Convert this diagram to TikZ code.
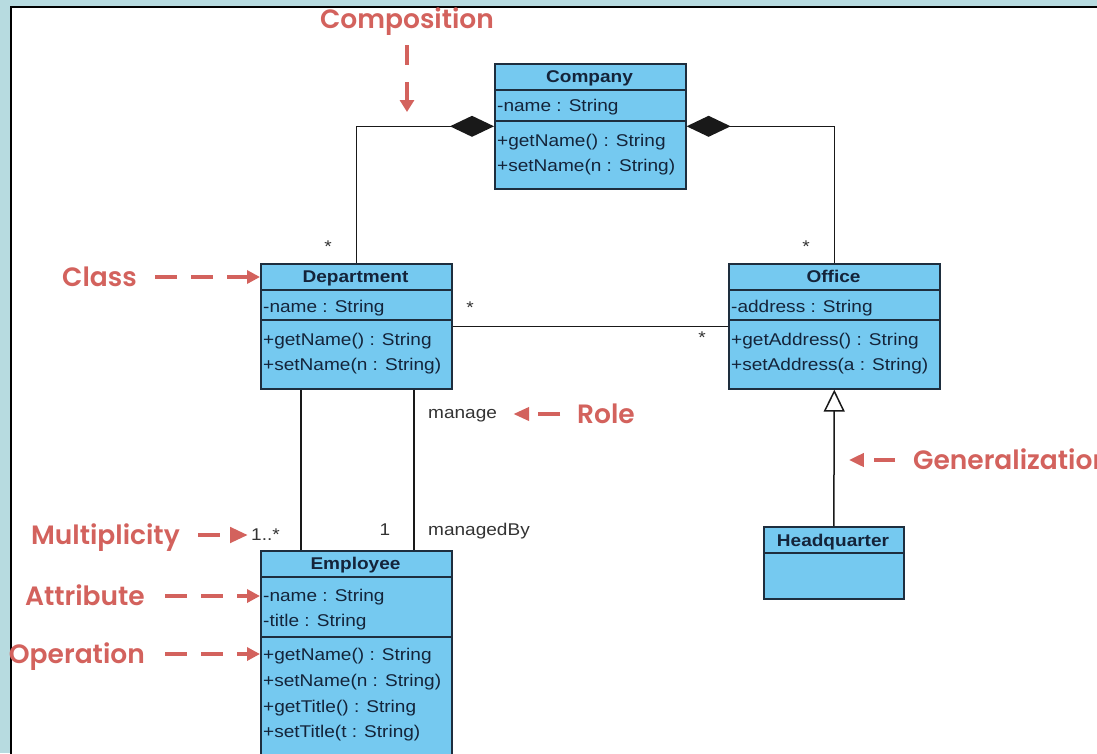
\documentclass[tikz,border=0pt]{standalone}
\usepackage{fontspec}
\setmainfont{Liberation Sans}[FakeStretch=1.12]
\newfontfamily\annfont{Poppins SemiBold}
\usetikzlibrary{arrows.meta,calc}

\definecolor{frameblue}{HTML}{B7DBE0}
\definecolor{classfill}{HTML}{75C9F0}
\definecolor{classline}{HTML}{1E2E3E}
\definecolor{classtext}{HTML}{14243A}
\definecolor{annred}{HTML}{D3625D}

\tikzset{
  classbox/.style={draw=classline, line width=1.6pt, fill=classfill, inner sep=0pt, anchor=north west},
  sepline/.style={draw=classline, line width=1.4pt},
  cname/.style={font=\bfseries\fontsize{17}{20}\selectfont, text=classtext, inner sep=0pt, text height=12pt, text depth=0pt},
  member/.style={font=\fontsize{17}{20}\selectfont, text=classtext, inner sep=0pt, text height=12pt, text depth=0pt, anchor=west},
  assoc/.style={draw=black!90, line width=1.5pt},
  lbl/.style={font=\fontsize{17}{20}\selectfont, text=black!80, inner sep=0pt, text height=12pt, text depth=0pt},
  ann/.style={font=\annfont\fontsize{26.5}{30}\selectfont, text=annred, inner sep=0pt, text height=19pt, text depth=0pt},
  annarrow/.style={draw=annred, line width=4.6pt},
}

\begin{document}
\begin{tikzpicture}[x=1pt,y=-1pt]
\useasboundingbox (0,0) rectangle (1097,753);
\clip (0,0) rectangle (1097,753);

% backdrop and frame
\fill[frameblue] (0,0) rectangle (1097,753);
\filldraw[fill=white, draw=black, line width=2pt] (11,7) rectangle (1120,780);

% ---- Company
\node[classbox, minimum width=191pt, minimum height=125pt] (company) at (494,63) {};
\draw[sepline] (494,90) -- (685,90);
\draw[sepline] (494,121) -- (685,121);
\node[cname] (companyName) at (589.5,76) {Company};
\node[member] (companyA1) at (497,105) {-name : String};
\node[member] (companyO1) at (497,140) {+getName() : String};
\node[member] (companyO2) at (497,165) {+setName(n : String)};

% ---- Department
\node[classbox, minimum width=191pt, minimum height=125pt] (department) at (260,263) {};
\draw[sepline] (260,290) -- (451,290);
\draw[sepline] (260,320) -- (451,320);
\node[cname] (departmentName) at (355.5,276) {Department};
\node[member] (departmentA1) at (263,306) {-name : String};
\node[member] (departmentO1) at (263,339) {+getName() : String};
\node[member] (departmentO2) at (263,364) {+setName(n : String)};

% ---- Office
\node[classbox, minimum width=211pt, minimum height=125pt] (office) at (728,263) {};
\draw[sepline] (728,290) -- (939,290);
\draw[sepline] (728,320) -- (939,320);
\node[cname] (officeName) at (833.5,276) {Office};
\node[member] (officeA1) at (731,306) {-address : String};
\node[member] (officeO1) at (731,339) {+getAddress() : String};
\node[member] (officeO2) at (731,364) {+setAddress(a : String)};

% ---- Employee
\node[classbox, minimum width=191pt, minimum height=220pt] (employee) at (260,550) {};
\draw[sepline] (260,577) -- (451,577);
\draw[sepline] (260,637) -- (451,637);
\node[cname] (employeeName) at (355.5,563) {Employee};
\node[member] (employeeA1) at (263,595) {-name : String};
\node[member] (employeeA2) at (263,620) {-title : String};
\node[member] (employeeO1) at (263,654) {+getName() : String};
\node[member] (employeeO2) at (263,680) {+setName(n : String)};
\node[member] (employeeO3) at (263,706) {+getTitle() : String};
\node[member] (employeeO4) at (263,731) {+setTitle(t : String)};

% ---- Headquarter
\node[classbox, minimum width=140pt, minimum height=72pt] (headquarter) at (763,526) {};
\draw[sepline] (763,553) -- (903,553);
\node[cname] (headquarterName) at (833,540) {Headquarter};

% ---- relationships
\draw[assoc, {Diamond[length=44pt,width=21pt]}-] (company.west) -| (department.north);
\draw[assoc, {Diamond[length=44pt,width=21pt]}-] (company.east) -| (office.north);
\draw[assoc] (department.east) -- (office.west);
\draw[assoc] ([xshift=41pt]department.south west) -- ([xshift=41pt]employee.north west);
\draw[assoc] ([xshift=154pt]department.south west) -- ([xshift=154pt]employee.north west);
\draw[assoc, -{Triangle[open, length=22pt, width=21pt, fill=white]}] (headquarter.north) -- (office.south);

% ---- multiplicities and roles
\node[lbl] (multCompDept) at (328,246) {*};
\node[lbl] (multCompOffice) at (806,246) {*};
\node[lbl] (multDeptSide) at (470,307) {*};
\node[lbl] (multOfficeSide) at (702,337) {*};
\node[lbl, anchor=west] (multEmp) at (251,534) {1..*};
\node[lbl] (multMgr) at (385,529) {1};
\node[lbl, anchor=west] (roleManage) at (428,412) {manage};
\node[lbl, anchor=west] (roleManagedBy) at (428,529) {managedBy};

% ---- callouts
\node[ann] (annComp) at (407,19) {Composition};
\coordinate (compTip) at (407,112);
\draw[annarrow, dash pattern=on 20pt off 17pt, -{Triangle[length=12pt,width=14pt]}]
  ([yshift=-16.5pt]annComp.south) -- (compTip);

\node[ann, anchor=east] (annClass) at (137,277) {Class};
\draw[annarrow, dash pattern=on 22pt off 14pt, -{Triangle[length=13pt,width=13pt]}]
  ([xshift=18pt]annClass.east) -- (annClass -| department.west);

\node[ann, anchor=east] (annMult) at (180,535) {Multiplicity};
\draw[annarrow, dash pattern=on 22pt off 12pt, -{Triangle[length=18pt,width=15pt]}]
  ([xshift=18pt]annMult.east) -- ([xshift=-3pt]annMult -| multEmp.west);

\node[ann, anchor=east] (annAttr) at (145,596) {Attribute};
\draw[annarrow, dash pattern=on 22pt off 14pt, -{Triangle[length=13pt,width=13pt]}]
  ([xshift=20pt]annAttr.east) -- (annAttr -| employee.west);

\node[ann, anchor=east] (annOp) at (145,654) {Operation};
\draw[annarrow, dash pattern=on 22pt off 14pt, -{Triangle[length=13pt,width=13pt]}]
  ([xshift=20pt]annOp.east) -- (annOp -| employee.west);

\node[ann, anchor=west] (annRole) at (577,414) {Role};
\draw[annarrow, dash pattern=on 22pt off 12pt, -{Triangle[length=16pt,width=13pt]}]
  ([xshift=-17pt]annRole.west) -- ([xshift=16pt]annRole -| roleManage.east);

\node[ann, anchor=west] (annGen) at (913,460) {Generalization};
\draw[annarrow, dash pattern=on 21pt off 12pt, -{Triangle[length=15pt,width=13pt]}]
  ([xshift=-18pt]annGen.west) -- ([xshift=15pt]annGen -| headquarter.north);
\end{tikzpicture}
\end{document}
